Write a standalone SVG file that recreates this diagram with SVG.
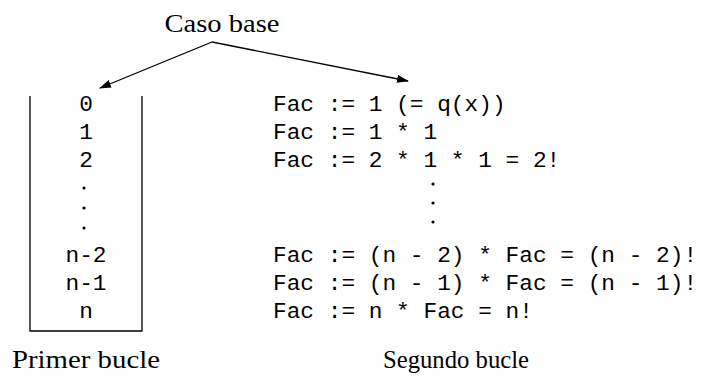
<svg xmlns="http://www.w3.org/2000/svg" width="708" height="379" viewBox="0 0 708 379">
<style>
.serif{font-family:"Liberation Serif","Times New Roman",serif;font-size:25px;fill:#000}
.mono{font-family:"Liberation Mono","Courier New",monospace;font-size:22.8px;fill:#000}
.line{stroke:#000;stroke-width:1.3;fill:none}
.dot{fill:#000}
</style>
<defs>
<marker id="ah" markerWidth="12" markerHeight="8" refX="11" refY="4" orient="auto" markerUnits="userSpaceOnUse">
<path d="M0,0 L12,4 L0,8 Z" fill="#000"/>
</marker>
</defs>
<rect width="708" height="379" fill="#fff"/>
<g id="caso-base">
<text class="serif" font-family="Liberation Serif, serif" x="222" y="32" text-anchor="middle" textLength="115" lengthAdjust="spacingAndGlyphs">Caso base</text>
</g>
<g id="connectors">
<line class="line" x1="212" y1="42" x2="100" y2="88" marker-end="url(#ah)"/>
<line class="line" x1="212" y1="42" x2="408" y2="81" marker-end="url(#ah)"/>
</g>
<g id="primer-bucle">
<path class="line" d="M30,96 V331 H142 V96"/>
<g class="mono" text-anchor="middle">
<text x="86" y="111">0</text>
<text x="86" y="139">1</text>
<text x="86" y="167">2</text>
<text x="86" y="262">n-2</text>
<text x="86" y="290">n-1</text>
<text x="86" y="318">n</text>
</g>
<circle class="dot" cx="84" cy="188" r="1.6"/>
<circle class="dot" cx="84" cy="208" r="1.6"/>
<circle class="dot" cx="84" cy="228" r="1.6"/>
<text class="serif" font-family="Liberation Serif, serif" x="86" y="368" text-anchor="middle" textLength="148" lengthAdjust="spacingAndGlyphs">Primer bucle</text>
</g>
<g id="segundo-bucle">
<g class="mono" xml:space="preserve">
<text x="273" y="111">Fac := 1 (= q(x))</text>
<text x="273" y="139">Fac := 1 * 1</text>
<text x="273" y="167">Fac := 2 * 1 * 1 = 2!</text>
<text x="273" y="262">Fac := (n - 2) * Fac = (n - 2)!</text>
<text x="273" y="290">Fac := (n - 1) * Fac = (n - 1)!</text>
<text x="273" y="318">Fac := n * Fac = n!</text>
</g>
<circle class="dot" cx="433" cy="184" r="1.6"/>
<circle class="dot" cx="433" cy="203" r="1.6"/>
<circle class="dot" cx="433" cy="222" r="1.6"/>
<text class="serif" font-family="Liberation Serif, serif" x="456" y="368" text-anchor="middle" textLength="146" lengthAdjust="spacingAndGlyphs">Segundo bucle</text>
</g>
</svg>
